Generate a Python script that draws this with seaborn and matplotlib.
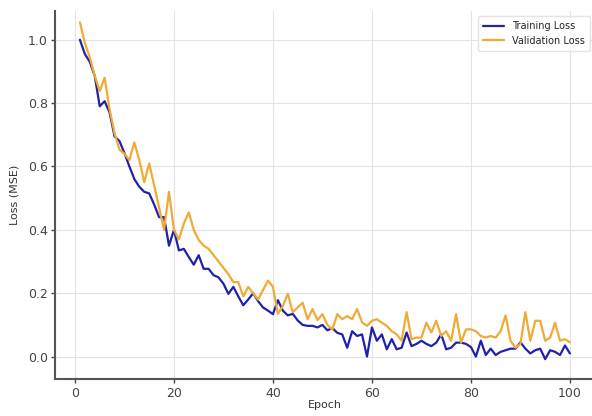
import numpy as np
import pandas as pd
import matplotlib
matplotlib.use("Agg")
import matplotlib.pyplot as plt
import seaborn as sns

# --- data ---
epochs = list(range(1, 101))

train_loss = [
    1.00, 0.955, 0.93, 0.886, 0.79, 0.806, 0.77, 0.695, 0.68, 0.642,
    0.60, 0.56, 0.536, 0.52, 0.515, 0.48, 0.44, 0.44, 0.35, 0.40,
    0.335, 0.34, 0.314, 0.29, 0.32, 0.277, 0.277, 0.257, 0.25, 0.23,
    0.198, 0.22, 0.19, 0.162, 0.18, 0.20, 0.175, 0.155, 0.145, 0.134,
    0.178, 0.145, 0.13, 0.135, 0.114, 0.10, 0.097, 0.097, 0.092, 0.10,
    0.083, 0.09, 0.075, 0.07, 0.028, 0.08, 0.065, 0.07, 0.0, 0.092,
    0.05, 0.07, 0.023, 0.055, 0.023, 0.028, 0.076, 0.033, 0.04, 0.05,
    0.04, 0.033, 0.044, 0.07, 0.023, 0.028, 0.044, 0.044, 0.04, 0.03,
    0.0, 0.05, 0.005, 0.025, 0.005, 0.015, 0.02, 0.025, 0.025, 0.045,
    0.025, 0.01, 0.02, 0.025, -0.008, 0.02, 0.015, 0.005, 0.035, 0.01,
]

val_loss = [
    1.055, 0.99, 0.944, 0.886, 0.838, 0.88, 0.78, 0.705, 0.653, 0.64,
    0.62, 0.676, 0.62, 0.55, 0.61, 0.54, 0.47, 0.40, 0.52, 0.40,
    0.37, 0.42, 0.455, 0.40, 0.368, 0.35, 0.34, 0.32, 0.30, 0.28,
    0.26, 0.235, 0.235, 0.19, 0.22, 0.20, 0.18, 0.21, 0.24, 0.22,
    0.135, 0.16, 0.198, 0.14, 0.155, 0.17, 0.118, 0.15, 0.115, 0.134,
    0.10, 0.085, 0.134, 0.118, 0.128, 0.118, 0.15, 0.108, 0.097, 0.113,
    0.118, 0.107, 0.097, 0.08, 0.07, 0.05, 0.14, 0.055, 0.06, 0.06,
    0.107, 0.076, 0.113, 0.065, 0.08, 0.05, 0.134, 0.044, 0.086, 0.086,
    0.08, 0.065, 0.06, 0.065, 0.06, 0.08, 0.13, 0.05, 0.028, 0.04,
    0.14, 0.05, 0.113, 0.113, 0.05, 0.06, 0.107, 0.05, 0.055, 0.045,
]

series_names = ["Training Loss", "Validation Loss"]
series_colors = ["#2020aa", "#efab35"]

df = pd.DataFrame({
    "Epoch": epochs * 2,
    "Loss": train_loss + val_loss,
    "Series": [series_names[0]] * len(epochs) + [series_names[1]] * len(epochs),
})

# --- plot ---
sns.set_style("whitegrid", {
    "grid.color": "#e3e3e3",
    "axes.edgecolor": "#555555",
    "xtick.bottom": True,
    "ytick.left": True,
})
plt.rcParams["font.family"] = ["DejaVu Sans"]

fig = plt.figure(figsize=(5.92, 4.16), dpi=100)
ax = fig.add_axes([0.0936, 0.088, 0.9105, 0.885])

sns.lineplot(data=df, x="Epoch", y="Loss", hue="Series",
             palette=dict(zip(series_names, series_colors)),
             linewidth=1.6, ax=ax)

ax.set_ylim(-0.072, 1.09)
ax.set_xticks([0, 20, 40, 60, 80, 100])
ax.set_yticks([0.0, 0.2, 0.4, 0.6, 0.8, 1.0])
ax.set_yticklabels([f"{v:.1f}" for v in ax.get_yticks()])
ax.tick_params(labelsize=9, colors="#444444", length=3, width=1, pad=2.5)
ax.set_xlabel("Epoch", fontsize=8, color="#333333", labelpad=0)
ax.set_ylabel("Loss (MSE)", fontsize=8, color="#333333", labelpad=6)

for side in ["top", "right"]:
    ax.spines[side].set_visible(False)
for side in ["left", "bottom"]:
    ax.spines[side].set_linewidth(1.5)

leg = ax.legend(loc="upper right", fontsize=7, frameon=True, title=None,
                borderpad=0.5, handlelength=2.2)
leg.get_frame().set_edgecolor("#dddddd")
for h in leg.get_lines():
    h.set_linewidth(1.6)

fig.savefig("out.png", dpi=100)
